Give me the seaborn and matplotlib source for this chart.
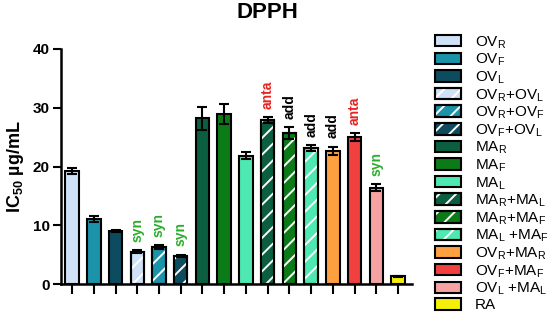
import matplotlib

matplotlib.use("Agg")

import matplotlib.pyplot as plt
import seaborn as sns
import pandas as pd
import numpy as np
from matplotlib.patches import Patch

# --- data ---
CATEGORIES = ["OVR", "OVF", "OVL", "OVR+OVL", "OVR+OVF", "OVF+OVL",
              "MAR", "MAF", "MAL", "MAR+MAL", "MAR+MAF", "MAL+MAF",
              "OVR+MAR", "OVF+MAF", "OVL+MAL", "RA"]
IC50 = [19.3, 11.1, 9.0, 5.5, 6.3, 4.8,
        28.2, 28.9, 21.8, 27.9, 25.7, 23.1,
        22.7, 25.0, 16.4, 1.3]
SEM = [0.5, 0.5, 0.2, 0.3, 0.3, 0.2,
       2.0, 1.7, 0.6, 0.5, 1.0, 0.5,
       0.7, 0.7, 0.6, 0.1]
INTERACTION = ["", "", "", "syn", "syn", "syn",
               "", "", "", "anta", "add", "add",
               "add", "anta", "syn", ""]
LEGEND_LABELS = [
    "OV$_\\mathregular{R}$", "OV$_\\mathregular{F}$", "OV$_\\mathregular{L}$",
    "OV$_\\mathregular{R}$+OV$_\\mathregular{L}$",
    "OV$_\\mathregular{R}$+OV$_\\mathregular{F}$",
    "OV$_\\mathregular{F}$+OV$_\\mathregular{L}$",
    "MA$_\\mathregular{R}$", "MA$_\\mathregular{F}$", "MA$_\\mathregular{L}$",
    "MA$_\\mathregular{R}$+MA$_\\mathregular{L}$",
    "MA$_\\mathregular{R}$+MA$_\\mathregular{F}$",
    "MA$_\\mathregular{L}$ +MA$_\\mathregular{F}$",
    "OV$_\\mathregular{R}$+MA$_\\mathregular{R}$",
    "OV$_\\mathregular{F}$+MA$_\\mathregular{F}$",
    "OV$_\\mathregular{L}$ +MA$_\\mathregular{L}$",
    "RA",
]
HATCHED = [False, False, False, True, True, True,
           False, False, False, True, True, True,
           False, False, False, False]
COLORS = ["#cfe1f6", "#1b93a9", "#0d4b5e", "#cfe1f6", "#1b93a9", "#0d4b5e",
          "#0b5f40", "#0a7b16", "#4ee9b2", "#0b5f40", "#0a7b16", "#4ee9b2",
          "#ffa040", "#f23f3f", "#f7a2a2", "#f4ef0a"]
NOTE_COLORS = {"syn": "#2aae2a", "anta": "#e52420", "add": "black"}

plt.rcParams["font.family"] = "Liberation Sans"
plt.rcParams["mathtext.fontset"] = "custom"
plt.rcParams["mathtext.rm"] = "Liberation Sans"
plt.rcParams["mathtext.bf"] = "Liberation Sans:bold"
plt.rcParams["hatch.linewidth"] = 1.4

df = pd.DataFrame({"sample": CATEGORIES, "ic50": IC50, "sem": SEM})

fig = plt.figure(figsize=(5.5, 3.16), dpi=100)
ax = fig.add_axes([61 / 550, 1 - 284 / 316, 351 / 550, 235 / 316])

BAR_W = 0.62
sns.barplot(data=df, x="sample", y="ic50", hue="sample", palette=COLORS,
            saturation=1, legend=False, width=BAR_W, edgecolor="black",
            linewidth=1.5, errorbar=None, ax=ax)

pos = np.arange(len(CATEGORIES))
vals = np.array(IC50)
errs = np.array(SEM)
hmask = np.array(HATCHED)

# white diagonal stripes on the combination bars, then redraw the outline
ax.bar(pos[hmask], vals[hmask], width=BAR_W, facecolor="none",
       edgecolor="white", hatch="//", linewidth=0, zorder=2)
ax.bar(pos[hmask], vals[hmask], width=BAR_W, facecolor="none",
       edgecolor="black", linewidth=1.5, zorder=2.1)

ax.errorbar(pos, vals, yerr=errs, fmt="none", ecolor="black",
            elinewidth=1.5, capsize=3.6, capthick=1.5, zorder=3)

for x, v, e, note in zip(pos, vals, errs, INTERACTION):
    if note:
        ax.text(x, v + e + 1.4, note, rotation=90, ha="center", va="bottom",
                color=NOTE_COLORS[note], fontsize=10, fontweight="bold")

ax.set_xlim(-0.51, len(CATEGORIES) - 1 + 0.64)
ax.set_ylim(0, 40)
ax.set_yticks([0, 10, 20, 30, 40])
ax.set_xticks(pos)
ax.set_xticklabels([])
ax.set_xlabel("")
ax.set_ylabel("IC$_\\mathbf{50}$ µg/mL", fontsize=13, fontweight="bold",
              labelpad=5)
for lab in ax.get_yticklabels():
    lab.set_fontweight("bold")
ax.tick_params(axis="y", labelsize=11, width=1.5, length=6, pad=2)
ax.tick_params(axis="x", width=1.5, length=7)
sns.despine(ax=ax)
for side in ["left", "bottom"]:
    ax.spines[side].set_linewidth(1.8)

fig.text(267 / 550, 1 - 13 / 316, "DPPH", ha="center", va="center",
         fontsize=16, fontweight="bold")

handles = []
for c, h in zip(COLORS, HATCHED):
    base = Patch(facecolor=c, edgecolor="black", linewidth=1.5)
    if h:
        stripes = Patch(facecolor="none", edgecolor="white", hatch="//",
                        linewidth=0)
        outline = Patch(facecolor="none", edgecolor="black", linewidth=1.5)
        handles.append((base, stripes, outline))
    else:
        handles.append(base)

fig.legend(handles, LEGEND_LABELS, loc="upper left",
           bbox_to_anchor=(435 / 550, 1 - 34 / 316), frameon=False,
           borderpad=0, borderaxespad=0, fontsize=11, handlelength=1.7,
           handleheight=0.78, handletextpad=0.9, labelspacing=0.06)

fig.savefig("out.png", dpi=100)
plt.close("all")
